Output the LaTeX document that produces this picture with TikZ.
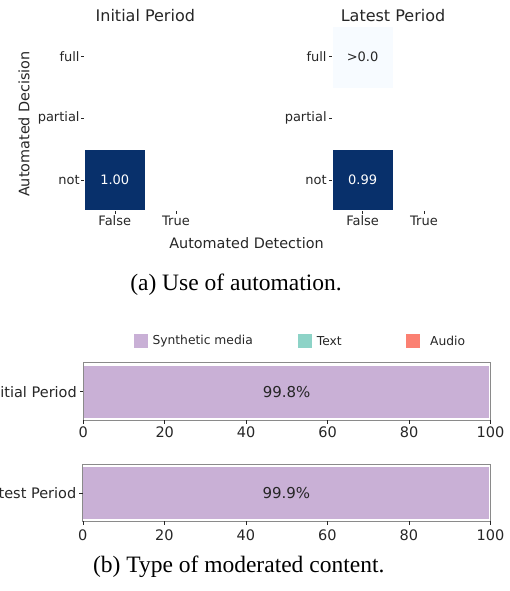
\documentclass[tikz,border=0pt]{standalone}
\usepackage{fontspec}
\setmainfont{Liberation Serif}
\newfontfamily\djv{DejaVu Sans}
\definecolor{txt}{HTML}{262626}
\definecolor{heatdark}{HTML}{08306B}
\definecolor{heatlight}{HTML}{F7FBFF}
\definecolor{synth}{RGB}{201,176,214}
\definecolor{textc}{HTML}{8DD3C7}
\definecolor{audio}{HTML}{FB8072}
\definecolor{frame}{HTML}{8A8A8A}
\tikzset{
  ticklbl/.style={font=\djv\fontsize{13}{15}\selectfont, text=txt, inner sep=0},
  titlelbl/.style={font=\djv\fontsize{16}{19}\selectfont, text=txt, inner sep=0},
  axislbl/.style={font=\djv\fontsize{14.4}{17}\selectfont, text=txt, inner sep=0},
  barlbl/.style={font=\djv\fontsize{14.5}{17}\selectfont, text=txt, inner sep=0},
  vallbl/.style={font=\djv\fontsize{15}{18}\selectfont, text=txt, inner sep=0},
  leglbl/.style={font=\djv\fontsize{12.3}{15}\selectfont, text=txt, inner sep=0, anchor=west},
  cell/.style={minimum width=61pt, minimum height=61.3pt, inner sep=0, draw=white, line width=0.6pt,
    font=\djv\fontsize{13}{15}\selectfont},
  tickmark/.style={draw=txt, line width=0.5pt},
  axframe/.style={draw=frame, line width=0.9pt},
  capt/.style={font=\fontsize{23.5}{28}\selectfont, text=black, inner sep=0},
  legpatch/.style={minimum width=15pt, minimum height=15pt, inner sep=0, draw=white, line width=0.5pt},
}
\begin{document}
\begin{tikzpicture}[x=1pt, y=-1pt]
\useasboundingbox (0,0) rectangle (510,591);

% ---------- heatmap: initial period ----------
\node[titlelbl] (tInit) at (145.3,15.7) {Initial Period};
\node[cell, fill=heatdark, text=white] (iNotFalse) at (114.8,180.1) {1.00};
\node[ticklbl, anchor=east] (iFull) at (79.8,56.2) {full};
\node[ticklbl, anchor=east] (iPartial) at (79.8,118.2) {partial};
\node[ticklbl, anchor=east] (iNot) at (79.8,180.1) {not};
\foreach \yy in {56.2,118.2,180.1} \draw[tickmark] (81.3,\yy) -- (84.3,\yy);
\node[ticklbl] (iFalse) at (114.8,221) {False};
\node[ticklbl] (iTrue) at (176,221) {True};
\foreach \xx in {114.8,176} \draw[tickmark] (\xx,210.9) -- (\xx,213.9);

% ---------- heatmap: latest period ----------
\node[titlelbl] (tLate) at (393,15.7) {Latest Period};
\node[cell, fill=heatlight, text=txt] (lFullFalse) at (362.6,57.2) {>0.0};
\node[cell, fill=heatdark, text=white] (lNotFalse) at (362.6,180.1) {0.99};
\node[ticklbl, anchor=east] (lFull) at (326.8,56.2) {full};
\node[ticklbl, anchor=east] (lPartial) at (326.8,118.2) {partial};
\node[ticklbl, anchor=east] (lNot) at (326.8,180.1) {not};
\foreach \yy in {56.2,118.2,180.1} \draw[tickmark] (329,\yy) -- (332,\yy);
\node[ticklbl] (lFalse) at (362.6,221) {False};
\node[ticklbl] (lTrue) at (424,221) {True};
\foreach \xx in {362.6,424} \draw[tickmark] (\xx,210.9) -- (\xx,213.9);

% shared axis labels
\node[axislbl] (xlab) at (246.5,243) {Automated Detection};
\node[axislbl, rotate=90] (ylab) at (24,124) {Automated Decision};

\node[capt] (capA) at (236,285) {(a) Use of automation.};

% ---------- legend ----------
\node[legpatch, fill=synth] (pSynth) at (140.8,340.8) {};
\node[leglbl] (lgSynth) at (152.3,341) {Synthetic media};
\node[legpatch, fill=textc] (pText) at (305.2,340.8) {};
\node[leglbl] (lgText) at (316.7,341) {Text};
\node[legpatch, fill=audio] (pAudio) at (412.5,340.8) {};
\node[leglbl] (lgAudio) at (430,341) {Audio};

% ---------- stacked bars ----------
\begin{scope}
\clip (0,0) rectangle (510,591);
% initial period
\fill[synth] (83.3,366) rectangle (489.3,417.6);
\draw[axframe] (83.3,362.7) rectangle (490.5,420);
\node[vallbl] (vInit) at (286.6,391.7) {99.8\%};
\node[barlbl, anchor=east] (bInit) at (77,391.7) {Initial Period};
\draw[tickmark] (79.8,391.5) -- (83.3,391.5);
\foreach \v [count=\i from 0] in {0,20,40,60,80,100} {
  \draw[tickmark] (83.3+\i*81.44,420) -- (83.3+\i*81.44,423.5);
  \node[barlbl] (tA\i) at (83.3+\i*81.44,432.7) {\v};
}
% latest period
\fill[synth] (82.8,466.7) rectangle (489.3,519);
\draw[axframe] (82.8,464) rectangle (490.5,521);
\node[vallbl] (vLate) at (286.4,492.7) {99.9\%};
\node[barlbl, anchor=east] (bLate) at (76.5,493.2) {Latest Period};
\draw[tickmark] (79.3,493) -- (82.8,493);
\foreach \v [count=\i from 0] in {0,20,40,60,80,100} {
  \draw[tickmark] (82.8+\i*81.54,521) -- (82.8+\i*81.54,524.5);
  \node[barlbl] (tB\i) at (82.8+\i*81.54,535) {\v};
}
\end{scope}

\node[capt] (capB) at (238.7,567) {(b) Type of moderated content.};
\end{tikzpicture}
\end{document}
